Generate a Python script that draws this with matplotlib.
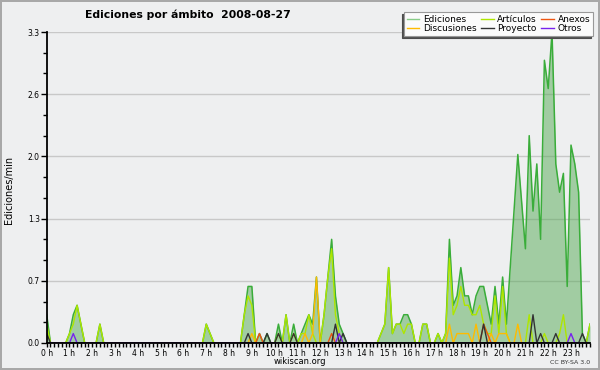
import numpy as np
import matplotlib.pyplot as plt
from matplotlib.lines import Line2D
from matplotlib.ticker import MultipleLocator

# Edits per minute, one value per 10-minute bin (144 bins for the day)
ediciones = [
    0.3, 0, 0, 0, 0, 0, 0.1, 0.3, 0.4, 0.2, 0, 0,
    0, 0, 0.2, 0, 0, 0, 0, 0, 0, 0, 0, 0,
    0, 0, 0, 0, 0, 0, 0, 0, 0, 0, 0, 0,
    0, 0, 0, 0, 0, 0, 0.2, 0.1, 0, 0, 0, 0,
    0, 0, 0, 0, 0.3, 0.6, 0.6, 0, 0.1, 0, 0.1, 0,
    0, 0.2, 0, 0.3, 0, 0.2, 0, 0.1, 0.2, 0.3, 0.2, 0.7,
    0, 0.3, 0.7, 1.1, 0.5, 0.2, 0.1, 0, 0, 0, 0, 0,
    0, 0, 0, 0, 0.1, 0.2, 0.8, 0.1, 0.2, 0.2, 0.3, 0.3,
    0.2, 0, 0, 0.2, 0.2, 0, 0, 0.1, 0, 0.1, 1.1, 0.4,
    0.5, 0.8, 0.5, 0.5, 0.3, 0.5, 0.6, 0.6, 0.4, 0.2, 0.6, 0.2,
    0.7, 0.2, 0.8, 1.4, 2.0, 1.5, 1.0, 2.2, 1.4, 1.9, 1.1, 3.0,
    2.7, 3.3, 1.9, 1.6, 1.8, 0.6, 2.1, 1.9, 1.6, 0.1, 0, 0.2,
]

articulos = [
    0.2, 0, 0, 0, 0, 0, 0.1, 0.2, 0.4, 0.2, 0, 0,
    0, 0, 0.2, 0, 0, 0, 0, 0, 0, 0, 0, 0,
    0, 0, 0, 0, 0, 0, 0, 0, 0, 0, 0, 0,
    0, 0, 0, 0, 0, 0, 0.2, 0.1, 0, 0, 0, 0,
    0, 0, 0, 0, 0.3, 0.5, 0.4, 0, 0, 0, 0, 0,
    0, 0.1, 0, 0.3, 0, 0.1, 0, 0.1, 0.1, 0.3, 0.1, 0,
    0, 0.3, 0.7, 1.0, 0.3, 0.1, 0, 0, 0, 0, 0, 0,
    0, 0, 0, 0, 0.1, 0.2, 0.8, 0.1, 0.2, 0.2, 0.1, 0.2,
    0.2, 0, 0, 0.2, 0.2, 0, 0, 0.1, 0, 0.1, 0.9, 0.3,
    0.4, 0.6, 0.4, 0.4, 0.3, 0.3, 0.4, 0.2, 0.1, 0.1, 0.5, 0.1,
    0.6, 0.1, 0, 0, 0, 0, 0, 0.3, 0, 0, 0, 0.1,
    0, 0, 0, 0.1, 0.3, 0, 0, 0, 0, 0, 0, 0.2,
]

# sparse series: bin index -> value
discusiones_bins = [54, 68, 70, 71, 106, 108, 109, 110, 111, 113, 117, 119, 120, 121, 124]
discusiones_vals = [0.1, 0.1, 0.1, 0.7, 0.2, 0.1, 0.1, 0.1, 0.1, 0.2, 0.1, 0.1, 0.1, 0.1, 0.2]
anexos_bins = [56, 75, 115, 116]
anexos_vals = [0.1, 0.1, 0.2, 0.1]
proyecto_bins = [0, 53, 58, 61, 65, 76, 78, 115, 128, 130, 134, 141]
proyecto_vals = [0.1, 0.1, 0.1, 0.1, 0.1, 0.2, 0.1, 0.2, 0.3, 0.1, 0.1, 0.1]
otros_bins = [7, 77, 138]
otros_vals = [0.1, 0.1, 0.1]

ytick_labels = ['0.0', '0.7', '1.3', '2.0', '2.6', '3.3']
hours = list(range(24))

x = np.arange(len(ediciones)) / 6.0


def sparse(bins, vals):
    arr = np.zeros(len(ediciones))
    arr[bins] = vals
    return arr


bg = '#eeeff0'
fig = plt.figure(figsize=(6, 3.7), dpi=100, facecolor=bg,
                 edgecolor='#a8a8a8', linewidth=1.5)
ax = fig.add_axes([46.7 / 600, 27 / 370, 543.3 / 600, 311 / 370])
ax.set_facecolor(bg)

# total edits as filled area, namespaces as lines on top
ax.fill_between(x, 0, ediciones, color='#55aa55', alpha=0.5, lw=0, zorder=1)
ax.plot(x, ediciones, color='#3aad3a', lw=1.1, zorder=2)

series = [
    ('Artículos', articulos, '#aee600'),
    ('Discusiones', sparse(discusiones_bins, discusiones_vals), '#ffbb00'),
    ('Anexos', sparse(anexos_bins, anexos_vals), '#ee5511'),
    ('Proyecto', sparse(proyecto_bins, proyecto_vals), '#333333'),
    ('Otros', sparse(otros_bins, otros_vals), '#7722ee'),
]
for name, vals, col in series:
    ax.plot(x, vals, color=col, lw=1.0, zorder=2)

ax.set_xlim(0, x[-1])
ax.set_ylim(0, 3.3)
ax.set_yticks(np.linspace(0, 3.3, 6), labels=ytick_labels)
ax.yaxis.set_minor_locator(MultipleLocator(0.22))
ax.set_xticks(hours, labels=[f'{h} h' for h in hours])
ax.xaxis.set_minor_locator(MultipleLocator(1 / 6))
ax.grid(axis='y', color='#c8c8c8', lw=1)
ax.set_axisbelow(True)

ax.tick_params(which='both', direction='out', width=1, labelsize=5.5, pad=1)
ax.tick_params(axis='y', which='major', length=4)
ax.tick_params(axis='y', which='minor', length=3)
ax.tick_params(axis='x', which='both', length=3)
for s in ['top', 'right']:
    ax.spines[s].set_visible(False)
for s in ['left', 'bottom']:
    ax.spines[s].set_linewidth(1.3)
    ax.spines[s].set_zorder(3)

fig.text(85 / 600, 1 - 15 / 370, 'Ediciones por ámbito  2008-08-27',
         fontsize=7.8, weight='bold', ha='left', va='center')
fig.text(9 / 600, 1 - 190 / 370, 'Ediciones/min', rotation=90,
         fontsize=7, ha='center', va='center')
fig.text(0.5, 1 - 361 / 370, 'wikiscan.org', fontsize=6, ha='center', va='center')
fig.text(590 / 600, 1 - 362 / 370, 'CC BY-SA 3.0', fontsize=4.5,
         ha='right', va='center', color='#333333')

handles = [Line2D([], [], color='#88cc88', lw=1)]
labels = ['Ediciones']
for name, vals, col in series:
    handles.append(Line2D([], [], color=col, lw=1))
    labels.append(name)
# reorder so the columns read Ediciones/Discusiones, Artículos/Proyecto, Anexos/Otros
order = [0, 2, 1, 4, 3, 5]
leg = fig.legend([handles[i] for i in order], [labels[i] for i in order],
                 ncol=3, loc='upper right', bbox_to_anchor=(593 / 600, 1 - 12 / 370),
                 fontsize=6.5, frameon=True, fancybox=False,
                 shadow={'ox': -1.5, 'oy': -1.5, 'facecolor': '#555555', 'alpha': 1},
                 handlelength=1.4, handletextpad=0.4, columnspacing=0.5,
                 labelspacing=0.05, borderpad=0.3, borderaxespad=0)
leg.get_frame().set_edgecolor('#999999')
leg.get_frame().set_facecolor('#fbfbfb')
leg.get_frame().set_linewidth(0.8)

fig.savefig('out.png', dpi=100, facecolor=fig.get_facecolor(),
            edgecolor=fig.get_edgecolor())
